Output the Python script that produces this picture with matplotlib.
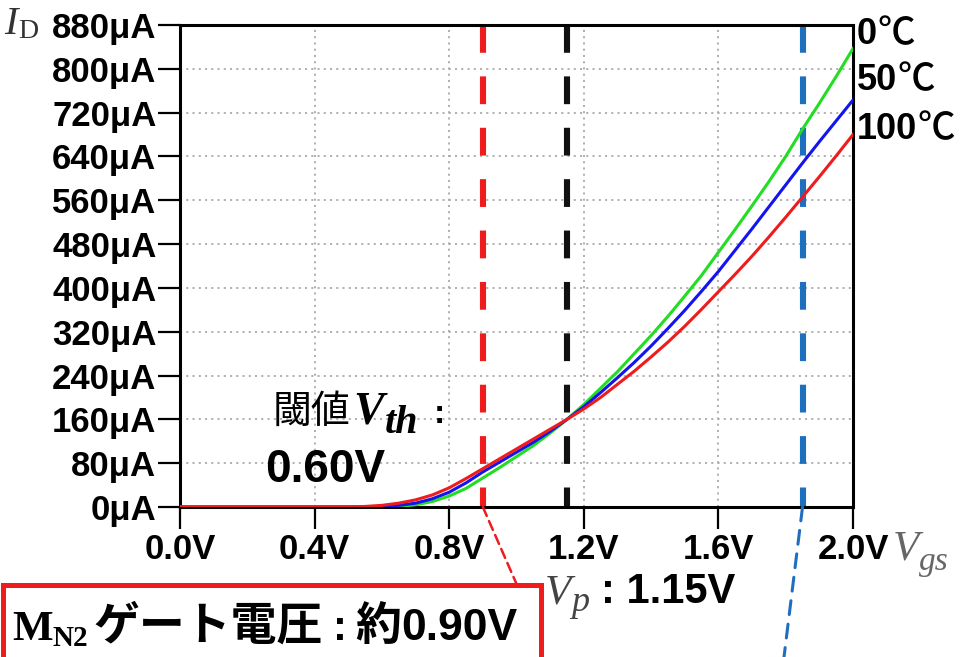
import matplotlib
matplotlib.use("Agg")
import matplotlib.pyplot as plt
from matplotlib.patches import Rectangle, ConnectionPatch

# ---- data -------------------------------------------------------------
vgs = [0.00, 0.05, 0.10, 0.15, 0.20, 0.25, 0.30, 0.35, 0.40, 0.45,
       0.50, 0.55, 0.60, 0.65, 0.70, 0.75, 0.80, 0.85, 0.90, 0.95,
       1.00, 1.05, 1.10, 1.15, 1.20, 1.25, 1.30, 1.35, 1.40, 1.45,
       1.50, 1.55, 1.60, 1.65, 1.70, 1.75, 1.80, 1.85, 1.90, 1.95, 2.00]

# drain current in uA
id_0c = [0, 0, 0, 0, 0, 0, 0, 0, 0, 0,
         0, 0, 0, 1, 4, 10, 20, 34, 53, 72,
         92, 112, 135, 160, 187, 217, 247, 280, 313, 348,
         385, 423, 465, 507, 550, 594, 640, 690, 737, 786, 837]
id_50c = [0, 0, 0, 0, 0, 0, 0, 0, 0, 0,
          0, 0, 1, 3, 7, 15, 27, 44, 64, 82,
          100, 118, 138, 160, 183, 209, 236, 264, 294, 326,
          359, 394, 430, 469, 508, 548, 588, 628, 667, 705, 743]
id_100c = [0, 0, 0, 0, 0, 0, 0, 0, 0, 0,
           0, 1, 3, 7, 13, 22, 35, 52, 70, 88,
           106, 124, 142, 160, 179, 200, 224, 248, 274, 301,
           330, 361, 393, 425, 458, 493, 529, 566, 603, 641, 680]

temps = ["0℃", "50℃", "100℃"]
x_ticks = [0.0, 0.4, 0.8, 1.2, 1.6, 2.0]
x_ticklabels = ["0.0V", "0.4V", "0.8V", "1.2V", "1.6V", "2.0V"]
y_ticks = [0, 80, 160, 240, 320, 400, 480, 560, 640, 720, 800, 880]
y_ticklabels = [f"{v}μA" for v in y_ticks]

v_th = 0.60      # threshold voltage
v_p = 1.15       # temperature-independent point
v_gate = 0.90    # MN2 gate voltage
v_right = 1.85   # right-hand marker

# ---- style ------------------------------------------------------------
plt.rcParams.update({
    "lines.scale_dashes": False,
    "mathtext.fontset": "custom",
    "mathtext.rm": "Liberation Serif",
    "mathtext.it": "Liberation Serif:italic",
    "mathtext.bf": "Liberation Serif:bold",
    "mathtext.bfit": "Liberation Serif:italic:bold",
})
SANS = ["Liberation Sans", "Noto Sans CJK JP", "DejaVu Sans"]
CJK = ["Noto Sans CJK JP", "DejaVu Sans"]
SERIF = ["Liberation Serif", "DejaVu Serif"]

GREEN = "#22dd22"
BLUE = "#1414ee"
RED = "#ee1c1c"
STEEL = "#1f6fbf"

W, H = 960, 657
fig = plt.figure(figsize=(W / 100, H / 100), dpi=100)
ax = fig.add_axes([180 / W, 1 - 507 / H, (853 - 180) / W, (507 - 25) / H])

# marker lines
dash = (0, (20, 17))
for v, c in [(v_gate, RED), (v_p, "#111111"), (v_right, STEEL)]:
    ax.plot([v, v], [880, 0], color=c, lw=4.4, linestyle=dash,
            dash_capstyle="butt", zorder=2)

# characteristic curves
ax.plot(vgs, id_0c, color=GREEN, lw=2.2, zorder=3)
ax.plot(vgs, id_50c, color=BLUE, lw=2.2, zorder=4)
ax.plot(vgs, id_100c, color=RED, lw=2.2, zorder=5)

ax.set_xlim(0, 2.0)
ax.set_ylim(0, 880)
ax.set_xticks(x_ticks)
ax.set_xticklabels(x_ticklabels)
ax.set_yticks(y_ticks)
ax.set_yticklabels(y_ticklabels)
ax.grid(True, color="#aaaaaa", linestyle=(0, (1.5, 3)), linewidth=1.3, zorder=1)
ax.set_axisbelow(True)
for s in ax.spines.values():
    s.set_linewidth(2.2)
    s.set_color("black")
ax.tick_params(axis="both", direction="out", length=16, width=1.6,
               colors="black", labelsize=25)
ax.tick_params(axis="y", pad=1)
ax.tick_params(axis="x", pad=3)
for lab in ax.get_xticklabels() + ax.get_yticklabels():
    lab.set_fontfamily(SANS)
    lab.set_fontweight("bold")

fig.canvas.draw()
renderer = fig.canvas.get_renderer()


def chain(x_px, base_px, parts):
    """Place text pieces one after another; each piece may sit lower (dy px)."""
    x = x_px
    for s, kw, gap, dy in parts:
        t = fig.text(x / W, 1 - (base_px + dy) / H, s, va="baseline",
                     ha="left", **kw)
        bb = t.get_window_extent(renderer)
        x = bb.x1 + gap
    return x


# temperature labels: bold number followed by the degree sign
for t, y in zip(temps, [44, 90, 139]):
    chain(857, y, [
        (t[:-1], dict(fontsize=26, fontweight="bold", family=SANS), 0, 0),
        (t[-1], dict(fontsize=27, family=CJK, fontweight="medium"), 0, 0),
    ])

# axis symbols
chain(4, 34, [
    ("I", dict(fontsize=29, family=SERIF, style="italic", color="#333333"), 1, 0),
    ("D", dict(fontsize=20, family=SERIF, color="#333333"), 0, 4),
])
chain(893, 560, [
    ("V", dict(fontsize=31, family=SERIF, style="italic", color="#666666"), 0, 0),
    ("gs", dict(fontsize=24, family=SERIF, style="italic", color="#666666"), 0, 10),
])

# threshold annotation
chain(273, 423, [
    ("閾値", dict(fontsize=28, family=CJK), 3, 0),
    ("V", dict(fontsize=33, family=SERIF, style="italic", fontweight="bold"), 0, 0),
    ("th", dict(fontsize=29, family=SERIF, style="italic", fontweight="bold"), 16, 10),
    (":", dict(fontsize=24, family=SANS, fontweight="bold"), 0, 0),
])
fig.text(265 / W, 1 - 482 / H, f"{v_th:.2f}V", fontsize=33, fontweight="bold",
         family=SANS, va="baseline", ha="left")

# Vp annotation
chain(545, 603, [
    ("V", dict(fontsize=31, family=SERIF, style="italic", color="#444444"), 0, 0),
    ("p", dict(fontsize=26, family=SERIF, style="italic", color="#444444"), 12, 8),
    (f": {v_p:.2f}V", dict(fontsize=30, fontweight="bold", family=SANS), 0, 0),
])

# gate-voltage box
fig.add_artist(Rectangle((2.5 / W, -0.05), 538 / W, 1 - 585 / H + 0.05,
                         transform=fig.transFigure, fill=False,
                         edgecolor=RED, lw=3.6, clip_on=False))
chain(12, 640, [
    ("M", dict(fontsize=31, family=SERIF, fontweight="bold"), 0, 0),
    ("N2", dict(fontsize=21, family=SERIF, fontweight="bold"), 5, 6),
    ("ゲート電圧", dict(fontsize=33, family=CJK, fontweight="bold"), 10, 0),
    (":", dict(fontsize=30, family=SANS, fontweight="bold"), 9, 0),
    ("約", dict(fontsize=33, family=CJK, fontweight="bold"), 0, 0),
    (f"{v_gate:.2f}V", dict(fontsize=32, fontweight="bold", family=SANS), 0, 0),
])

# connectors from the marker lines
fig.add_artist(ConnectionPatch(xyA=(v_gate, 0), coordsA=ax.transData,
                               xyB=(517 / W, 1 - 585 / H), coordsB=fig.transFigure,
                               color=RED, lw=1.8, linestyle=(0, (7, 4))))
fig.add_artist(ConnectionPatch(xyA=(v_right, 0), coordsA=ax.transData,
                               xyB=(784 / W, 0), coordsB=fig.transFigure,
                               color=STEEL, lw=2.2, linestyle=(0, (10, 7))))

fig.savefig("out.png", dpi=100, facecolor="white")
